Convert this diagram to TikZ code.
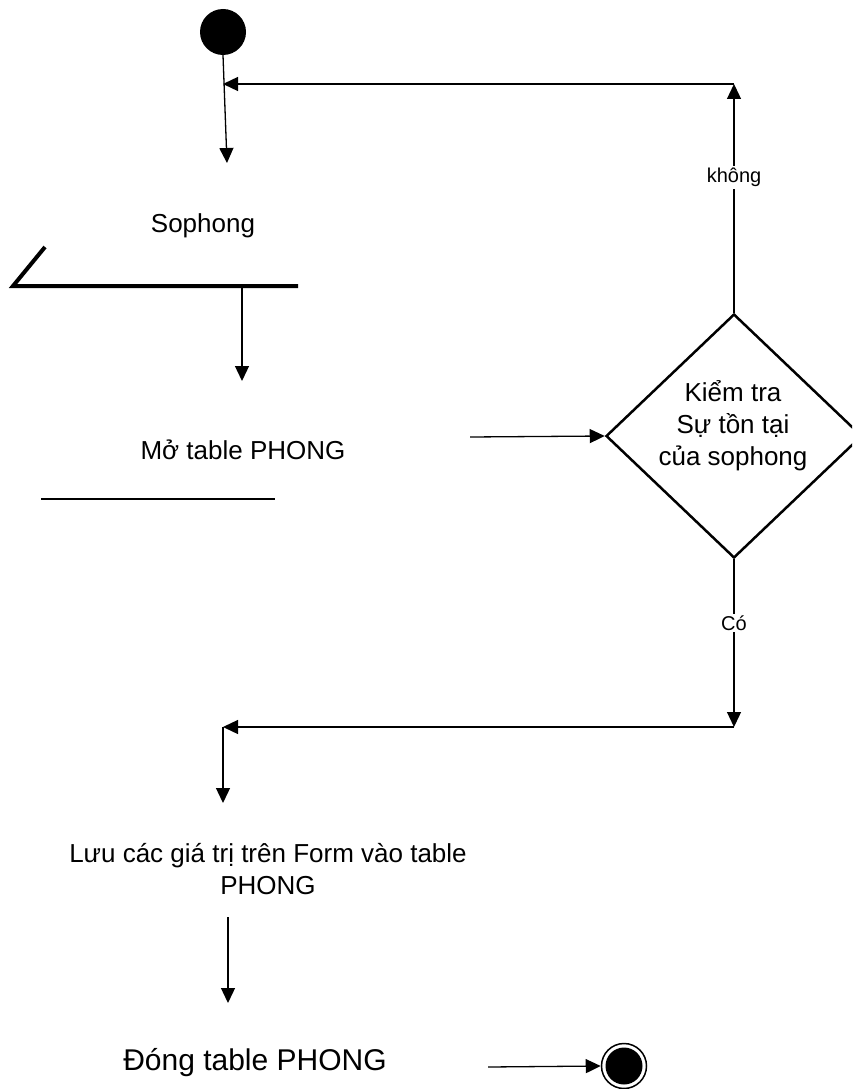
\documentclass[tikz,border=0pt]{standalone}
\usepackage{fontspec}
\setmainfont{Liberation Sans}
\usetikzlibrary{arrows.meta,shapes.geometric}
\begin{document}
\begin{tikzpicture}[x=1pt,y=-1pt,
  conn/.style={line width=1.3pt,-{Triangle[length=15pt,width=14pt]}},
  plain/.style={line width=1.3pt},
  lbl/.style={font=\fontsize{20}{24}\selectfont, fill=white, inner sep=2pt},
  txt/.style={font=\fontsize{26}{32}\selectfont, align=center, inner sep=0pt},
]
\useasboundingbox (0,0) rectangle (852,1089);
\clip (0,0) rectangle (852,1089);
% start
\node[circle,fill=black,minimum size=46pt,inner sep=0pt] (start) at (223,32) {};
\coordinate (a1end) at (227,163);
\draw[conn] (start.south) -- (a1end);
% Sophong input
\node[txt] (sophong) at (203,226) {Sophong};
\coordinate (barT) at (45,247);
\coordinate (barL) at (13,286);
\coordinate (barR) at (298,286);
\draw[line width=4pt] (barT) -- (barL) -- (barR);
\coordinate (a2s) at (242,288);
\coordinate (a2e) at (242,381);
\draw[conn] (a2s) -- (a2e);
% open table
\node[txt] (mo) at (243,450) {Mở table PHONG};
\coordinate (moL) at (41,499);
\coordinate (moR) at (275,499);
\draw[plain] (moL) -- (moR);
% decision
\node[draw,diamond,line width=2.5pt,minimum width=256pt,minimum height=244pt,inner sep=0pt] (check) at (734,436) {};
\node[txt] (checktext) at (733,426) {Kiểm tra\\Sự tồn tại\\của sophong};
\coordinate (a3s) at (470,437);
\draw[conn] (a3s) -- (check.west);
% loop back (khong)
\coordinate (loopTR) at (734,84);
\coordinate (loopTL) at (223,84);
\draw[conn] (check.north) -- node[lbl,pos=0.59] (khong) {không} (loopTR);
\draw[conn] (loopTR) -- (loopTL);
% yes branch
\coordinate (yesB) at (734,727);
\coordinate (yesL) at (223,727);
\coordinate (yesD) at (223,803);
\draw[conn] (check.south) -- node[lbl,pos=0.38] (co) {Có} (yesB);
\draw[conn] (yesB) -- (yesL);
\draw[conn] (yesL) -- (yesD);
% save
\node[txt] (luu) at (268,869) {Lưu các giá trị trên Form vào table\\PHONG};
\coordinate (a4s) at (228,917);
\coordinate (a4e) at (228,1003);
\draw[conn] (a4s) -- (a4e);
% close
\node[txt,font=\fontsize{30}{36}\selectfont] (dong) at (255,1063) {Đóng table PHONG};
\node[circle,draw,line width=1.5pt,minimum size=45pt,inner sep=0pt] (end) at (624,1066) {};
\node[circle,fill=black,minimum size=37pt,inner sep=0pt] (endin) at (end.center) {};
\coordinate (a5s) at (488,1067);
\draw[conn] (a5s) -- (end.west);
\end{tikzpicture}
\end{document}
